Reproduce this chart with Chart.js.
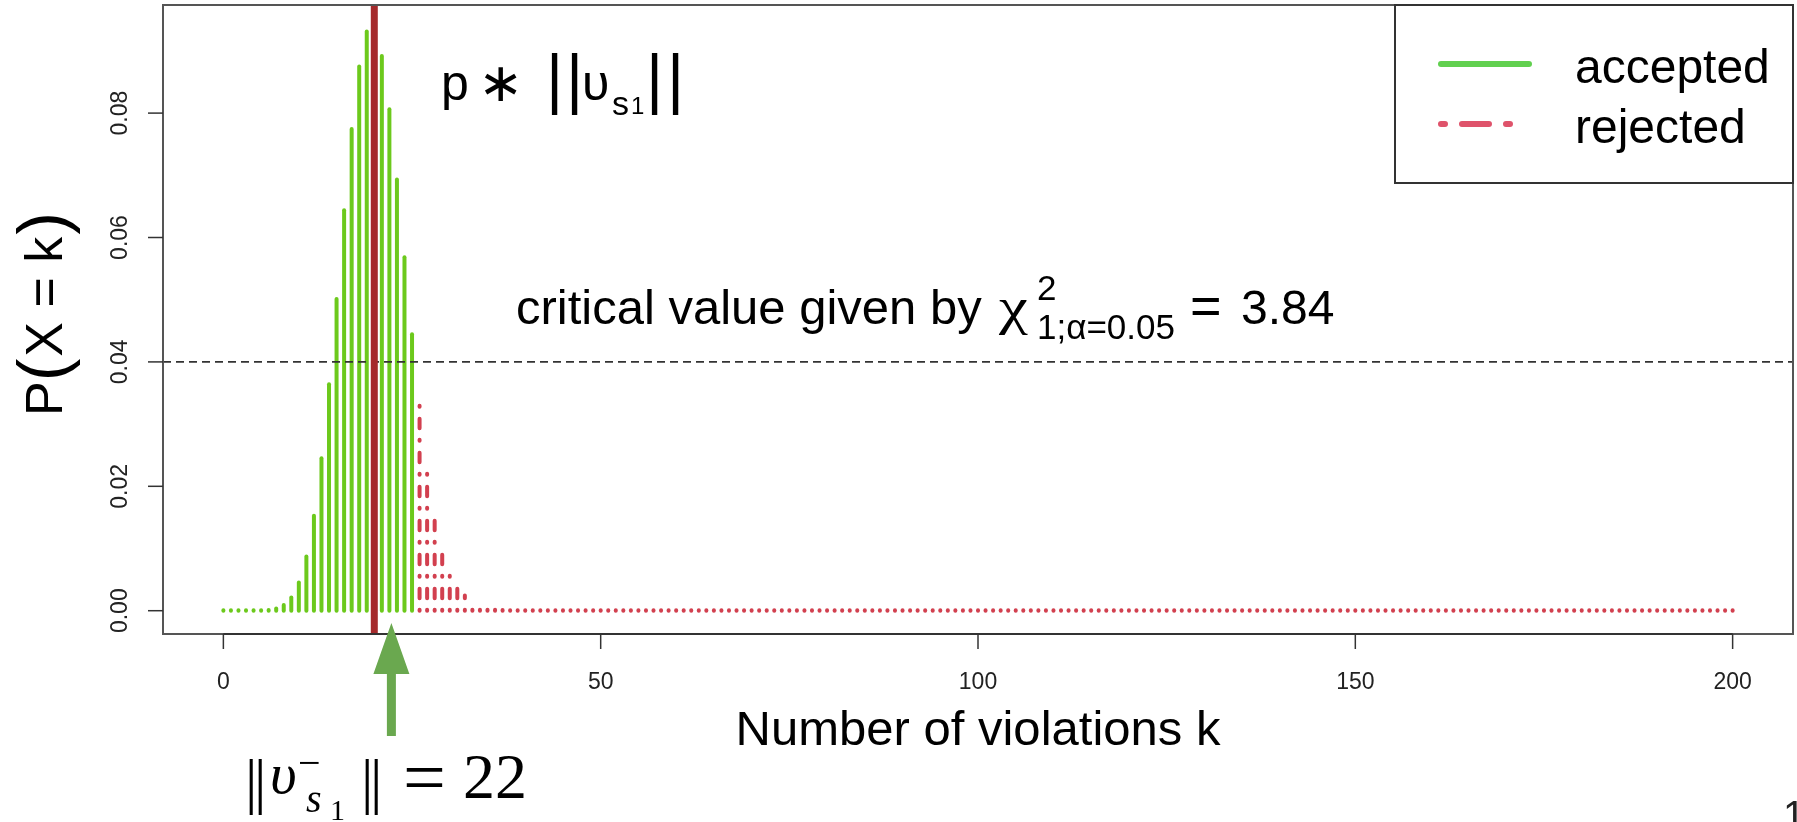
<!DOCTYPE html>
<html>
<head>
<meta charset="utf-8">
<script src="https://cdn.jsdelivr.net/npm/chart.js"></script>
<style>
  body { margin: 0; background: #fff; }
  #wrap { width: 1797px; height: 822px; }
</style>
</head>
<body>
<div id="wrap"><canvas id="binomChart" width="1797" height="822"></canvas></div>
<script>
// P(X = k), k = 0..25 accepted, k = 26..200 rejected
var acceptedStart = 0;
var acceptedP = [
  0.0000000007, 0.000000016, 0.00000017, 0.0000013, 0.0000070, 0.000030,
  0.00011, 0.00034, 0.00090, 0.00214, 0.00454, 0.00872, 0.01526, 0.02452,
  0.03639, 0.05013, 0.06440, 0.07745, 0.08749, 0.09312, 0.09364, 0.08918,
  0.08062, 0.06933, 0.05681, 0.04444
];
var rejectedStart = 26;
var rejectedP = [
  0.03323, 0.02380, 0.01634, 0.01077, 0.00682, 0.00415, 0.00244, 0.00138,
  0.00075, 0.00040, 0.00020, 0.00010, 0.00005, 0.00002, 0.00001,
  0, 0, 0, 0, 0, 0, 0, 0, 0, 0, 0, 0, 0, 0, 0, 0, 0, 0, 0, 0,
  0, 0, 0, 0, 0, 0, 0, 0, 0, 0, 0, 0, 0, 0, 0, 0, 0, 0, 0, 0,
  0, 0, 0, 0, 0, 0, 0, 0, 0, 0, 0, 0, 0, 0, 0, 0, 0, 0, 0, 0,
  0, 0, 0, 0, 0, 0, 0, 0, 0, 0, 0, 0, 0, 0, 0, 0, 0, 0, 0, 0,
  0, 0, 0, 0, 0, 0, 0, 0, 0, 0, 0, 0, 0, 0, 0, 0, 0, 0, 0, 0,
  0, 0, 0, 0, 0, 0, 0, 0, 0, 0, 0, 0, 0, 0, 0, 0, 0, 0, 0, 0,
  0, 0, 0, 0, 0, 0, 0, 0, 0, 0, 0, 0, 0, 0, 0, 0, 0, 0, 0, 0,
  0, 0, 0, 0, 0, 0, 0, 0, 0, 0, 0, 0, 0, 0, 0, 0, 0, 0, 0, 0
];
var xTicks = [0, 50, 100, 150, 200];
var yTicks = [0, 0.02, 0.04, 0.06, 0.08];
var yTickLabels = ['0.00', '0.02', '0.04', '0.06', '0.08'];
var criticalP = 0.04;      // horizontal dashed line
var expectedK = 20;        // p * ||v_s1||
var observedK = 22;        // ||v-_s1|| = 22
var xMin = -8, xMax = 208;
var yMin = -0.003745, yMax = 0.09738;

function toPoints(start, values) {
  return values.map(function (v, i) { return { x: start + i, y: v }; });
}

var SANS = '"Liberation Sans", Arial, sans-serif';
var SERIF = '"Liberation Serif", "DejaVu Serif", serif';

function txt(ctx, s, x, y, size, font, opts) {
  opts = opts || {};
  ctx.font = (opts.style || '') + ' ' + size + 'px ' + (font || SANS);
  ctx.textAlign = opts.align || 'left';
  ctx.textBaseline = 'alphabetic';
  ctx.fillStyle = opts.color || '#000';
  ctx.fillText(s, x, y);
  return ctx.measureText(s).width;
}

var rPlot = {
  id: 'rPlot',
  beforeDatasetsDraw: function (chart) {
    var ctx = chart.ctx, y = chart.scales.y;
    var y0 = y.getPixelForValue(0);
    chart.data.datasets.forEach(function (ds, i) {
      if (!ds.stems) return;
      var meta = chart.getDatasetMeta(i);
      ctx.save();
      ctx.strokeStyle = ds.stemColor;
      ctx.lineWidth = ds.stemWidth;
      ctx.lineCap = 'round';
      ctx.setLineDash(ds.stemDash || []);
      meta.data.forEach(function (pt) {
        var top = Math.min(pt.y, y0 - 0.5);
        ctx.beginPath();
        ctx.moveTo(pt.x, y0);
        ctx.lineTo(pt.x, top);
        ctx.stroke();
      });
      ctx.restore();
    });
  },
  afterDraw: function (chart) {
    var ctx = chart.ctx, a = chart.chartArea;
    var x = chart.scales.x, y = chart.scales.y;
    ctx.save();

    // plot box
    ctx.strokeStyle = '#555';
    ctx.lineWidth = 2;
    ctx.strokeRect(a.left, a.top, a.right - a.left, a.bottom - a.top);

    // axes
    ctx.strokeStyle = '#333';
    ctx.lineWidth = 2;
    var xa = x.getPixelForValue(xTicks[0]), xb = x.getPixelForValue(xTicks[xTicks.length - 1]);
    ctx.beginPath();
    ctx.moveTo(xa, a.bottom); ctx.lineTo(xb, a.bottom);
    ctx.stroke();
    ctx.lineWidth = 1.5;
    xTicks.forEach(function (t) {
      var px = x.getPixelForValue(t);
      ctx.beginPath(); ctx.moveTo(px, a.bottom); ctx.lineTo(px, a.bottom + 15); ctx.stroke();
      txt(ctx, String(t), px, 689, 23, SANS, { align: 'center', color: '#222' });
    });
    yTicks.forEach(function (t, i) {
      var py = y.getPixelForValue(t);
      ctx.beginPath(); ctx.moveTo(a.left, py); ctx.lineTo(a.left - 15, py); ctx.stroke();
      ctx.save();
      ctx.translate(127, py);
      ctx.rotate(-Math.PI / 2);
      txt(ctx, yTickLabels[i], 0, 0, 23, SANS, { align: 'center', color: '#222' });
      ctx.restore();
    });

    // axis titles
    txt(ctx, 'Number of violations k', (a.left + a.right) / 2, 745, 49, SANS, { align: 'center' });
    ctx.save();
    ctx.rotate(-Math.PI / 2);
    ctx.font = '52px ' + SANS;
    var wBody = ctx.measureText('P').width + ctx.measureText('X = k').width + 8;
    ctx.font = '68px ' + SANS;
    var wPar = ctx.measureText('(').width;
    var cx = -312 - (wBody + 2 * wPar) / 2;
    cx += txt(ctx, 'P', cx, 62, 52);
    cx += txt(ctx, '(', cx, 66, 68) + 2;
    cx += txt(ctx, 'X = k', cx, 62, 52) + 2;
    txt(ctx, ')', cx, 66, 68);
    ctx.restore();

    // annotation: p * ||v_s1||
    txt(ctx, 'p', 441, 100, 50);
    txt(ctx, '\u2217', 478, 101, 54, '"DejaVu Sans", ' + SANS);
    txt(ctx, '|', 546, 101, 66);
    txt(ctx, '|', 566, 101, 66);
    txt(ctx, '\u03c5', 582, 100, 50);
    txt(ctx, 's', 612, 115, 34);
    txt(ctx, '1', 631, 114, 24);
    txt(ctx, '|', 646, 101, 66);
    txt(ctx, '|', 667, 101, 66);

    // annotation: critical value
    txt(ctx, 'critical value given by', 516, 324, 49);
    ctx.save();
    ctx.translate(999, 324);
    ctx.scale(1.3, 1.05);
    txt(ctx, '\u03c7', 0, 0, 50, SERIF);
    ctx.restore();
    txt(ctx, '2', 1037, 300, 35);
    txt(ctx, '1;\u03b1=0.05', 1037, 339, 35);
    txt(ctx, '=', 1190, 324, 54);
    txt(ctx, '3.84', 1241, 324, 48);

    // legend box
    ctx.strokeStyle = '#333';
    ctx.lineWidth = 2;
    ctx.setLineDash([]);
    ctx.strokeRect(1395, a.top, a.right - 1395, 183 - a.top);
    ctx.lineCap = 'round';
    var ds = chart.data.datasets.filter(function (d) { return d.stems; });
    ds.forEach(function (d, i) {
      var ly = 64 + i * 60;
      ctx.strokeStyle = d.legendColor;
      ctx.lineWidth = 6;
      ctx.setLineDash(d.legendDash);
      ctx.beginPath(); ctx.moveTo(1441, ly); ctx.lineTo(d.legendDash.length ? 1511 : 1529, ly); ctx.stroke();
      txt(ctx, d.label, 1575, ly + 19, 48);
    });
    ctx.setLineDash([]);
    ctx.lineCap = 'butt';

    // green arrow pointing at the observed value
    var ax = x.getPixelForValue(observedK) + 2;
    ctx.fillStyle = '#6aa84f';
    ctx.fillRect(ax - 4.5, 672, 9, 64);
    ctx.beginPath();
    ctx.moveTo(ax, 623); ctx.lineTo(ax - 18, 674); ctx.lineTo(ax + 18, 674);
    ctx.closePath(); ctx.fill();

    // ||v-_s1|| = 22
    txt(ctx, '|', 245, 802, 62, SERIF);
    txt(ctx, '|', 254, 802, 62, SERIF);
    txt(ctx, '\u03c5', 270, 793, 58, SERIF, { style: 'italic' });
    txt(ctx, '\u2212', 298, 776, 40, SERIF);
    txt(ctx, 's', 306, 812, 40, SERIF, { style: 'italic' });
    txt(ctx, '1', 330, 820, 30, SERIF);
    txt(ctx, '|', 361, 802, 62, SERIF);
    txt(ctx, '|', 370, 802, 62, SERIF);
    txt(ctx, '=', 403, 803, 76, SERIF);
    txt(ctx, '22', 463, 798, 64, SERIF);

    // page number (cut off at the edge)
    txt(ctx, '1', 1783, 829, 40, SANS, { color: '#222' });

    ctx.restore();
  }
};

new Chart(document.getElementById('binomChart'), {
  type: 'scatter',
  data: {
    datasets: [
      {
        label: 'p * ||v||',
        type: 'line',
        data: [{ x: expectedK, y: yMin }, { x: expectedK, y: yMax }],
        borderColor: '#a52a2c',
        borderWidth: 7,
        pointRadius: 0,
        showLine: true
      },
      {
        label: 'critical',
        type: 'line',
        data: [{ x: xMin, y: criticalP }, { x: xMax, y: criticalP }],
        borderColor: '#333',
        borderWidth: 1.6,
        borderDash: [8, 5],
        pointRadius: 0,
        showLine: true
      },
      {
        label: 'accepted',
        data: toPoints(acceptedStart, acceptedP),
        pointRadius: 0,
        stems: true,
        stemColor: '#6cc91c',
        stemWidth: 4,
        stemDash: [],
        legendColor: '#61d04f',
        legendDash: []
      },
      {
        label: 'rejected',
        data: toPoints(rejectedStart, rejectedP),
        pointRadius: 0,
        stems: true,
        stemColor: '#d2404f',
        stemWidth: 4,
        stemDash: [1, 11.5, 9.5, 12],
        legendColor: '#df536b',
        legendDash: [4, 17, 27, 17]
      }
    ]
  },
  options: {
    responsive: false,
    animation: false,
    devicePixelRatio: 1,
    layout: { padding: { left: 163, right: 4, top: 5, bottom: 188 } },
    plugins: { legend: { display: false }, tooltip: { enabled: false } },
    scales: {
      x: { type: 'linear', min: xMin, max: xMax, display: false },
      y: { type: 'linear', min: yMin, max: yMax, display: false }
    }
  },
  plugins: [rPlot]
});
</script>
</body>
</html>
